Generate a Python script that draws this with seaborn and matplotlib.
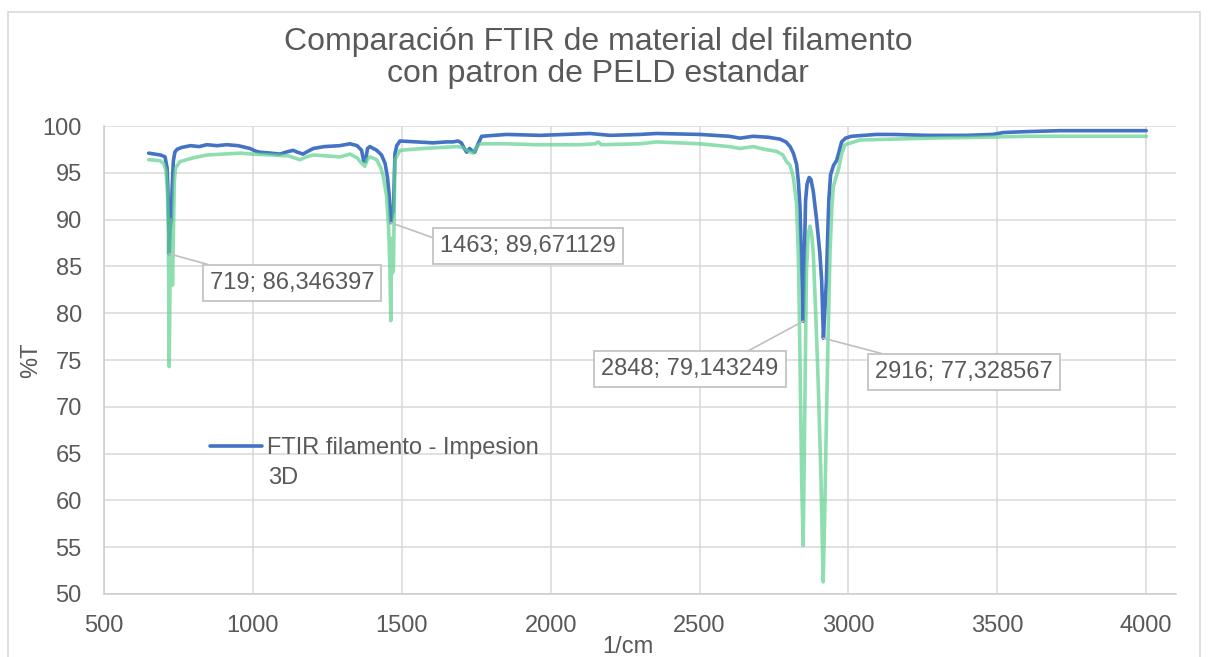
import matplotlib
matplotlib.use("Agg")
import matplotlib.pyplot as plt
from matplotlib.patches import Rectangle
import seaborn as sns

# FTIR filamento - Impesion 3D (wavenumber 1/cm, %T)
wn_filamento = [650, 670, 690, 705, 712, 716, 719, 722, 726, 729, 733, 738, 745, 760, 790,
                820, 845, 880, 912, 950, 990, 1010, 1024, 1060, 1091, 1110, 1135, 1150, 1168,
                1185, 1203, 1240, 1292, 1326, 1350, 1365, 1372, 1378, 1385, 1393, 1416, 1432,
                1444, 1452, 1458, 1463, 1468, 1472, 1477, 1483, 1494, 1550, 1605, 1650, 1672,
                1689, 1700, 1710, 1718, 1728, 1734, 1745, 1755, 1768, 1852, 1964, 2050, 2132,
                2200, 2300, 2356, 2501, 2600, 2636, 2680, 2730, 2770, 2790, 2804, 2815, 2826,
                2832, 2837, 2842, 2848, 2852, 2856, 2861, 2868, 2874, 2882, 2893, 2904, 2910,
                2916, 2921, 2926, 2930, 2934, 2940, 2950, 2960, 2968, 2977, 2990, 3010, 3094,
                3150, 3262, 3400, 3485, 3520, 3598, 3710, 3800, 3900, 4000]
t_filamento = [97.1, 97.0, 96.9, 96.7, 95.5, 92.0, 86.35, 89.0, 90.0, 93.5, 96.3, 97.2, 97.5,
               97.7, 97.9, 97.8, 98.0, 97.9, 98.0, 97.9, 97.6, 97.3, 97.2, 97.1, 97.0, 97.2,
               97.4, 97.2, 97.0, 97.3, 97.6, 97.8, 97.9, 98.1, 97.9, 97.4, 96.3, 96.2, 97.6,
               97.8, 97.4, 96.9, 96.0, 94.5, 92.5, 89.67, 90.5, 91.0, 97.0, 97.9, 98.4, 98.3,
               98.2, 98.3, 98.3, 98.4, 98.2, 97.6, 97.2, 97.6, 97.4, 97.2, 98.0, 98.9, 99.1,
               99.0, 99.1, 99.2, 99.0, 99.1, 99.2, 99.1, 98.9, 98.7, 98.9, 98.8, 98.6, 98.3,
               97.8, 97.1, 95.9, 94.0, 91.5, 86.0, 79.14, 86.0, 92.0, 93.8, 94.5, 94.3, 93.0,
               90.0, 86.4, 83.5, 77.33, 80.5, 83.5, 88.0, 92.0, 94.8, 95.8, 96.3, 97.2, 98.3,
               98.7, 98.9, 99.1, 99.1, 99.0, 99.0, 99.1, 99.3, 99.4, 99.5, 99.5, 99.5, 99.5]

# PELD estandar (wavenumber 1/cm, %T)
wn_peld = [650, 688, 700, 708, 713, 716, 719, 722, 726, 730, 733, 736, 740, 755, 800, 845,
           900, 957, 1000, 1069, 1120, 1158, 1180, 1203, 1250, 1292, 1326, 1350, 1360, 1376,
           1385, 1393, 1416, 1430, 1438, 1449, 1456, 1460, 1463, 1466, 1469, 1472, 1477,
           1494, 1571, 1628, 1690, 1705, 1718, 1730, 1740, 1752, 1763, 1852, 1950, 2020,
           2100, 2150, 2160, 2170, 2300, 2356, 2501, 2600, 2636, 2680, 2720, 2758, 2780,
           2792, 2804, 2815, 2826, 2832, 2837, 2843, 2848, 2853, 2859, 2865, 2871, 2877,
           2882, 2890, 2899, 2908, 2915, 2920, 2926, 2932, 2938, 2944, 2949, 2958, 2966,
           2977, 2988, 3039, 3262, 3450, 3598, 3800, 4000]
t_peld = [96.4, 96.3, 96.0, 95.3, 93.0, 89.0, 74.3, 84.0, 90.0, 83.0, 88.5, 94.0, 95.5,
          96.2, 96.6, 96.9, 97.0, 97.1, 97.0, 96.9, 96.8, 96.4, 96.7, 96.9, 96.8, 96.7,
          97.0, 96.6, 96.2, 95.7, 96.5, 96.7, 96.4, 95.5, 94.6, 92.5, 89.0, 85.0, 79.2,
          88.0, 84.3, 85.0, 96.4, 97.4, 97.6, 97.7, 97.8, 97.7, 97.4, 97.2, 97.1, 97.8,
          98.1, 98.1, 98.0, 98.0, 98.0, 98.1, 98.3, 98.0, 98.1, 98.3, 98.1, 97.8, 97.6,
          97.8, 97.5, 97.3, 96.9, 96.2, 95.8, 94.5, 91.7, 86.0, 75.7, 62.0, 55.2, 68.6,
          84.6, 88.5, 89.3, 88.3, 86.4, 80.0, 72.1, 62.0, 51.3, 58.0, 68.6, 78.0, 86.4,
          91.0, 93.5, 94.5, 95.3, 97.0, 98.0, 98.5, 98.7, 98.8, 98.9, 98.9, 98.9]

# labelled peaks of the filament spectrum
peak_wn = [719, 1463, 2848, 2916]
peak_t = [86.346397, 89.671129, 79.143249, 77.328567]
# label box centres (data coords) and where the leader meets the box
label_pos = [(1131, 83.2), (1924, 87.2), (2468, 74.0), (3388, 73.7)]
leader_rel = [(0.16, 1.0), (0.0, 0.75), (0.75, 1.0), (0.2, 1.0)]

TXT = "#595959"
GRID = "#d9d9d9"

sns.set_style("whitegrid", {"grid.color": GRID, "axes.edgecolor": "#cccccc"})
plt.rcParams["font.family"] = ["Liberation Sans", "DejaVu Sans"]

fig = plt.figure(figsize=(12.08, 6.57), dpi=100)
W, H = 1208, 657
ax = fig.add_axes([104 / W, 63 / H, 1072 / W, 468 / H])

sns.lineplot(x=wn_filamento, y=t_filamento, color="#4472C4", lw=2.6, ax=ax,
             label="FTIR filamento - Impesion", estimator=None, sort=False)
sns.lineplot(x=wn_peld, y=t_peld, color="#5fd08f", alpha=0.7, lw=2.6, ax=ax,
             estimator=None, sort=False)

ax.set_xlim(500, 4100)
ax.set_ylim(50, 100)
ax.set_xticks(range(500, 4001, 500))
ax.set_yticks(range(50, 101, 5))
ax.grid(True, color=GRID, lw=1.1)
ax.tick_params(length=0, labelsize=17, labelcolor=TXT)
ax.tick_params(axis="x", pad=15)
ax.tick_params(axis="y", pad=16)
for s in ["top", "right"]:
    ax.spines[s].set_visible(False)
for s in ["left", "bottom"]:
    ax.spines[s].set_color("#cccccc")
    ax.spines[s].set_linewidth(1.1)

ax.set_xlabel("1/cm", fontsize=17, color=TXT)
ax.set_ylabel("%T", fontsize=17, color=TXT)
ax.xaxis.set_label_coords(0.489, -0.09)
ax.yaxis.set_label_coords(-0.058, 0.5)

for wn, t, pos, rel in zip(peak_wn, peak_t, label_pos, leader_rel):
    txt = f"{wn}; {t:.6f}".replace(".", ",")
    ax.annotate(txt, xy=(wn, t), xytext=pos, ha="center", va="center",
                fontsize=17, color=TXT, zorder=5,
                bbox=dict(boxstyle="square,pad=0.3", fc="white", ec="#bfbfbf", lw=1.2),
                arrowprops=dict(arrowstyle="-", color="#bfbfbf", lw=1.2,
                                shrinkA=0, shrinkB=0, relpos=rel))

# legend: the label wraps onto a second line under the first
ax.legend(loc="center left", bbox_to_anchor=(0.0989, 0.312), frameon=False,
          fontsize=17, handlelength=2.2, handletextpad=0.2,
          borderpad=0, borderaxespad=0, labelcolor=TXT)
ax.text(0.153, 0.248, "3D", transform=ax.transAxes, ha="left", va="center",
        fontsize=17, color=TXT)

fig.text(598 / W, 1 - 27 / H, "Comparación FTIR de material del filamento\ncon patron de PELD estandar",
         ha="center", va="top", fontsize=23, color=TXT, linespacing=1.07)

fig.patches.append(Rectangle((8 / W, -0.05), 1192 / W, 1 - 12 / H + 0.05,
                             transform=fig.transFigure, fill=False,
                             ec=GRID, lw=1.2, zorder=-1))

plt.savefig("out.png", dpi=100)
